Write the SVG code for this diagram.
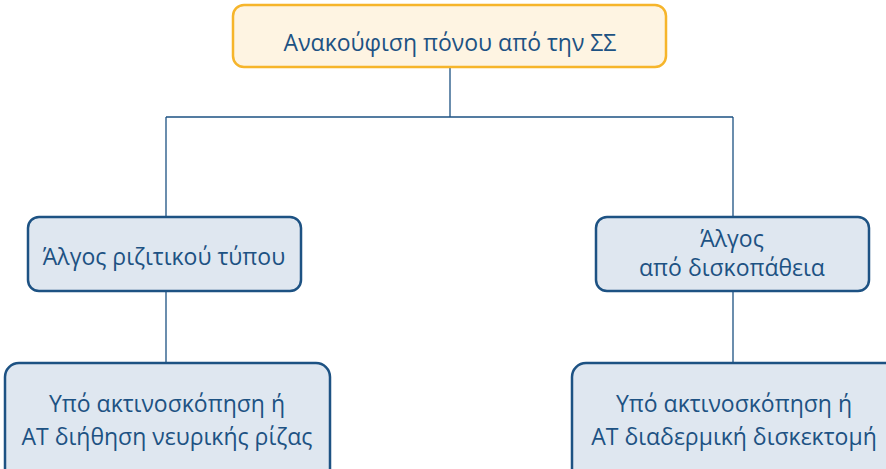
<svg xmlns="http://www.w3.org/2000/svg" width="886" height="469" viewBox="0 0 886 469">
<style>
.box{fill:#DFE7F0;stroke:#1D5283;stroke-width:2.5}
.top{fill:#FEF4E2;stroke:#F6B52B;stroke-width:2.5}
text{font-family:"Open Sans","Noto Sans",sans-serif;font-size:23px;fill:#1D5283;text-anchor:middle}
.conn{stroke:#1D5283;stroke-width:1.3;fill:none}
</style>
<rect width="886" height="469" fill="#ffffff"/>
<g id="connectors">
<path class="conn" d="M450,68 V117 M166,117 H733 M166,117 V218 M733,117 V218 M166,292 V364 M733,292 V364"/>
</g>
<g id="n-top">
<rect class="top" x="233" y="5" width="433" height="62" rx="11"/>
<text x="450" y="51">Ανακούφιση πόνου από την ΣΣ</text>
</g>
<g id="n-left">
<rect class="box" x="28" y="217" width="273" height="74" rx="11"/>
<text x="164" y="265">Άλγος ριζιτικού τύπου</text>
</g>
<g id="n-right">
<rect class="box" x="596" y="217" width="273" height="74" rx="11"/>
<text x="732" y="247">Άλγος</text>
<text x="732" y="276">από δισκοπάθεια</text>
</g>
<g id="n-bl">
<rect class="box" x="5" y="363" width="325" height="130" rx="14"/>
<text x="167" y="412">Υπό ακτινοσκόπηση ή</text>
<text x="167" y="445">ΑΤ διήθηση νευρικής ρίζας</text>
</g>
<g id="n-br">
<rect class="box" x="572" y="363" width="330" height="130" rx="14"/>
<text x="734" y="412">Υπό ακτινοσκόπηση ή</text>
<text x="734" y="445">ΑΤ διαδερμική δισκεκτομή</text>
</g>
</svg>
